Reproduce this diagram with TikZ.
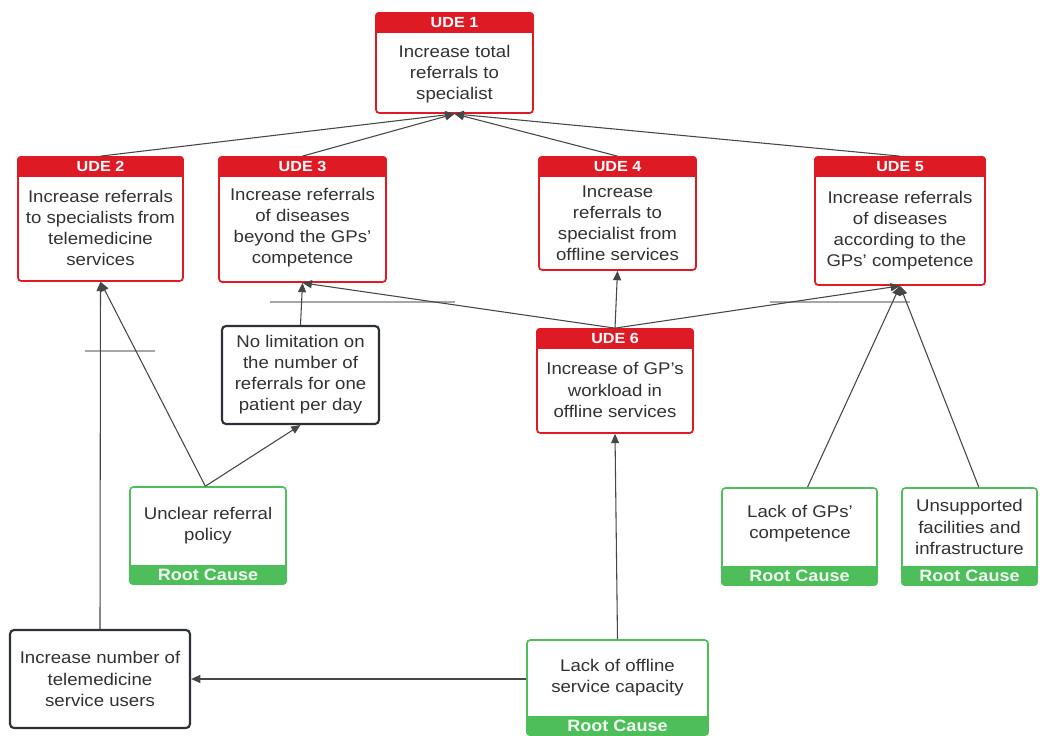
\documentclass[tikz,border=0pt]{standalone}
\usepackage{fontspec}
\setmainfont[FakeStretch=1.1]{Liberation Sans}
\usetikzlibrary{fit,arrows.meta}
\definecolor{udered}{RGB}{222,26,36}
\definecolor{rcgreen}{RGB}{78,190,90}
\definecolor{darkb}{RGB}{45,48,55}
\definecolor{txtc}{RGB}{50,50,50}
\definecolor{linec}{RGB}{70,70,70}
\tikzset{
  ude/.style={draw=udered, line width=1.3pt, rounded corners=2.5pt, inner sep=0pt, fill=white},
  rcbox/.style={draw=rcgreen, line width=1.2pt, rounded corners=2.5pt, inner sep=0pt, fill=white},
  plainbox/.style={draw=darkb, line width=1.6pt, rounded corners=3pt, inner sep=0pt, fill=white},
  txt/.style={text=txtc, font=\fontsize{12.7}{15.8}\selectfont, align=center, inner sep=0pt},
  hdr/.style={text=white, font=\bfseries\fontsize{11}{12}\selectfont, inner sep=0pt},
  ftr/.style={text=white!92!rcgreen, font=\bfseries\fontsize{12.3}{13}\selectfont, inner sep=0pt},
  arr/.style={-{Triangle[length=7pt,width=6pt]}, draw=linec, line width=0.8pt},
  hop/.style={draw=gray!70, line width=0.8pt},
}
\newcommand{\udehdr}[2]{%
  \fill[udered, rounded corners=2.5pt] (#1.north west) rectangle ([yshift=-15.5pt]#1.north east);
  \fill[udered] ([yshift=-6pt]#1.north west) rectangle ([yshift=-15.5pt]#1.north east);
  \node[hdr] at ([yshift=-7.8pt]#1.north) {#2};}
\newcommand{\rcftr}[1]{%
  \fill[rcgreen, rounded corners=2.5pt] ([yshift=14.6pt]#1.south west) rectangle (#1.south east);
  \fill[rcgreen] ([yshift=14.6pt]#1.south west) rectangle ([yshift=6pt]#1.south east);
  \node[ftr] at ([yshift=7.3pt]#1.south) {Root Cause};}
\begin{document}
\begin{tikzpicture}[x=0.75pt,y=-0.75pt]
\useasboundingbox[fill=white] (0,0) rectangle (1048,735);
% UDE boxes
\node[ude, fit={(376,13)(533,113)}] (u1) {};
\udehdr{u1}{UDE 1}
\node[txt] (u1t) at (454.5,74) {Increase total\\referrals to\\specialist};
\node[ude, fit={(18,157)(183,281)}] (u2) {};
\udehdr{u2}{UDE 2}
\node[txt] (u2t) at (100.5,228) {Increase referrals\\to specialists from\\telemedicine\\services};
\node[ude, fit={(219,157)(386,282)}] (u3) {};
\udehdr{u3}{UDE 3}
\node[txt] (u3t) at (302.5,228) {Increase referrals\\of diseases\\beyond the GPs'\\competence};
\node[ude, fit={(539,157)(696,270)}] (u4) {};
\udehdr{u4}{UDE 4}
\node[txt] (u4t) at (617.5,223) {Increase\\referrals to\\specialist from\\offline services};
\node[ude, fit={(815,157)(985,285)}] (u5) {};
\udehdr{u5}{UDE 5}
\node[txt] (u5t) at (900,231) {Increase referrals\\of diseases\\according to the\\GPs' competence};
\node[ude, fit={(537,329)(693,433)}] (u6) {};
\udehdr{u6}{UDE 6}
\node[txt] (u6t) at (615,390) {Increase of GP's\\workload in\\offline services};
% plain boxes
\node[plainbox, fit={(222,326)(379,424)}] (nl) {};
\node[txt] (nlt) at (300.5,375) {No limitation on\\the number of\\referrals for one\\patient per day};
\node[plainbox, fit={(10,630)(190,728)}] (us) {};
\node[txt] (ust) at (100,679) {Increase number of\\telemedicine\\service users};
% root causes
\node[rcbox, fit={(130,487)(286,584)}] (r1) {};
\rcftr{r1}
\node[txt] (r1t) at (208,526) {Unclear referral\\policy};
\node[rcbox, fit={(722,488)(877,585)}] (r2) {};
\rcftr{r2}
\node[txt] (r2t) at (800,524) {Lack of GPs'\\competence};
\node[rcbox, fit={(902,488)(1037,585)}] (r3) {};
\rcftr{r3}
\node[txt] (r3t) at (969.5,527) {Unsupported\\facilities and\\infrastructure};
\node[rcbox, fit={(527,640)(708,735)}] (r4) {};
\rcftr{r4}
\node[txt] (r4t) at (617.5,678) {Lack of offline\\service capacity};
% hop marks
\draw[hop] (85,351) -- (155,351);
\draw[hop] (270,302) -- (455,302);
\draw[hop] (770,302) -- (910,302);
% connectors
\draw[arr] (u2.north) -- (u1.south);
\draw[arr] (u3.north) -- (u1.south);
\draw[arr] (u4.north) -- (u1.south);
\draw[arr] (u5.north) -- (u1.south);
\draw[arr] (us.north) -- (u2.south);
\draw[arr] ([xshift=-2pt]r1.north) -- (u2.south);
\draw[arr] ([xshift=-2pt]r1.north) -- (nl.south);
\draw[arr] (nl.north) -- (u3.south);
\draw[arr] (u6.north) -- (u3.south);
\draw[arr] (u6.north) -- (u4.south);
\draw[arr] (u6.north) -- (u5.south);
\draw[arr] ([xshift=6pt]r2.north) -- (u5.south);
\draw[arr] ([xshift=7pt]r3.north) -- (u5.south);
\draw[arr] (r4.north) -- (u6.south);
\draw[arr] (r4.west |- us.east) -- (us.east);
\end{tikzpicture}
\end{document}
